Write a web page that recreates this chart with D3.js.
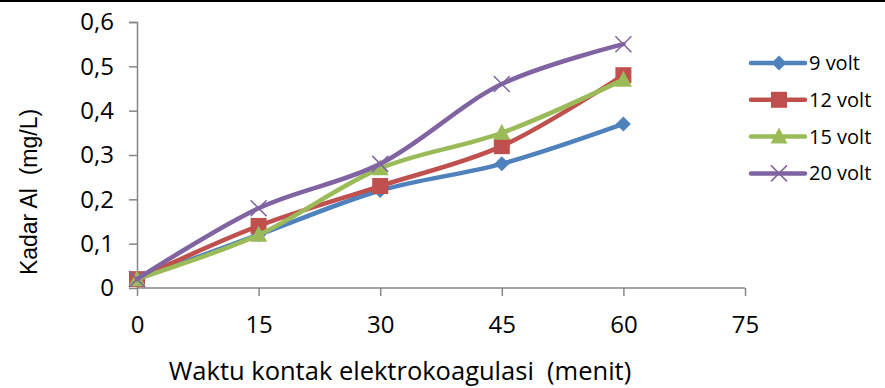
<!DOCTYPE html>
<html>
<head>
<meta charset="utf-8">
<script src="https://cdn.jsdelivr.net/npm/d3@7"></script>
<style>
  body { margin: 0; background: #fff; }
  text { font-family: "Open Sans", sans-serif; fill: #000; white-space: pre; }
</style>
</head>
<body>
<script>
// Data values
const minutes = [0, 15, 30, 45, 60];
const xTicks = [0, 15, 30, 45, 60, 75];
const yTicks = [0, 0.1, 0.2, 0.3, 0.4, 0.5, 0.6];

const volt9 = [0.02, 0.12, 0.22, 0.28, 0.37];
const volt12 = [0.02, 0.14, 0.23, 0.32, 0.48];
const volt15 = [0.02, 0.12, 0.27, 0.35, 0.47];
const volt20 = [0.02, 0.18, 0.28, 0.46, 0.55];

const seriesNames = ['9 volt', '12 volt', '15 volt', '20 volt'];
const seriesValues = [volt9, volt12, volt15, volt20];
const colors = ['#4F81BD', '#C0504D', '#9BBB59', '#8064A2'];
const markers = ['diamond', 'square', 'triangle', 'cross'];

const WIDTH = 885, HEIGHT = 388;
const margin = {top: 22, right: 140, bottom: 100, left: 137};
const width = WIDTH - margin.left - margin.right,
    height = HEIGHT - margin.top - margin.bottom;

const svg = d3.select('body').append('svg')
    .attr('width', WIDTH)
    .attr('height', HEIGHT);

// linea superior (borde del grafico recortado)
svg.append('line')
    .attr('x1', 0).attr('x2', WIDTH)
    .attr('y1', 1).attr('y2', 1)
    .attr('stroke', '#000').attr('stroke-width', 2);

const g = svg.append('g')
    .attr('transform', `translate(${margin.left},${margin.top})`);

const x = d3.scaleLinear().domain([0, 75]).range([0, 608]);
const y = d3.scaleLinear().domain([0, 0.6]).range([height, 0]);

const fmt = d => d3.format('.1f')(d).replace('.', ',');

// ejes
const yAxis = g.append('g')
    .call(d3.axisLeft(y).tickValues(yTicks).tickSize(8).tickPadding(15)
        .tickFormat(d => d === 0 ? '0' : fmt(d)));
const xAxis = g.append('g')
    .attr('transform', `translate(0,${height})`)
    .call(d3.axisBottom(x).tickValues(xTicks).tickSize(8).tickPadding(20));

[xAxis, yAxis].forEach(ax => {
  ax.select('.domain').attr('stroke', '#868686').attr('stroke-width', 1.5);
  ax.selectAll('.tick line').attr('stroke', '#868686').attr('stroke-width', 1.5);
  ax.selectAll('.tick text').style('font-size', '24px').style('font-family', '"Open Sans", sans-serif').attr('fill', '#000');
});
xAxis.select('.domain').attr('d', `M0.5,0H608`);
yAxis.select('.domain').attr('d', `M-8,0.5H0.5V${height}`);

// titulos de ejes
svg.append('text')
    .attr('transform', `translate(37,192) rotate(-90)`)
    .attr('text-anchor', 'middle')
    .style('font-family', '"Liberation Sans", Arial, sans-serif')
    .style('font-size', '23px')
    .text('Kadar Al  (mg/L)');

svg.append('text')
    .attr('x', 400).attr('y', 380)
    .attr('text-anchor', 'middle')
    .style('font-size', '25.5px')
    .text('Waktu kontak elektrokoagulasi  (menit)');

const line = d3.line()
    .x((d, i) => x(minutes[i]))
    .y(d => y(d))
    .curve(d3.curveCatmullRom.alpha(0.5));

function drawMarker(sel, type, color) {
  if (type === 'diamond') {
    sel.append('path').attr('d', 'M0,-7.5L7.5,0L0,7.5L-7.5,0Z').attr('fill', color);
  } else if (type === 'square') {
    sel.append('rect').attr('x', -8).attr('y', -8).attr('width', 16).attr('height', 16).attr('fill', color);
  } else if (type === 'triangle') {
    sel.append('path').attr('d', 'M0,-9L8.5,7L-8.5,7Z').attr('fill', color);
  } else {
    sel.append('path').attr('d', 'M-8,-8L8,8M-8,8L8,-8')
        .attr('stroke', color).attr('stroke-width', 1.5).attr('fill', 'none');
  }
}

seriesValues.forEach((vals, s) => {
  g.append('path')
      .datum(vals)
      .attr('d', line)
      .attr('fill', 'none')
      .attr('stroke', colors[s])
      .attr('stroke-width', 4.5)
      .attr('stroke-linecap', 'round');
  vals.forEach((v, i) => {
    const m = g.append('g').attr('transform', `translate(${x(minutes[i])},${y(v)})`);
    drawMarker(m, markers[s], colors[s]);
  });
});

// leyenda
const legend = svg.selectAll('.legend')
    .data(seriesNames)
    .enter().append('g')
      .attr('class', 'legend')
      .attr('transform', (d, i) => `translate(751,${63 + i * 36.8})`);

legend.append('line')
    .attr('x1', 0).attr('x2', 54)
    .attr('stroke', (d, i) => colors[i])
    .attr('stroke-width', 4.5)
    .attr('stroke-linecap', 'round');

legend.each(function(d, i) {
  const m = d3.select(this).append('g').attr('transform', 'translate(28,0)');
  drawMarker(m, markers[i], colors[i]);
});

legend.append('text')
    .attr('x', 58)
    .attr('dy', '0.35em')
    .style('font-size', '20px')
    .text(d => d);
</script>
</body>
</html>
